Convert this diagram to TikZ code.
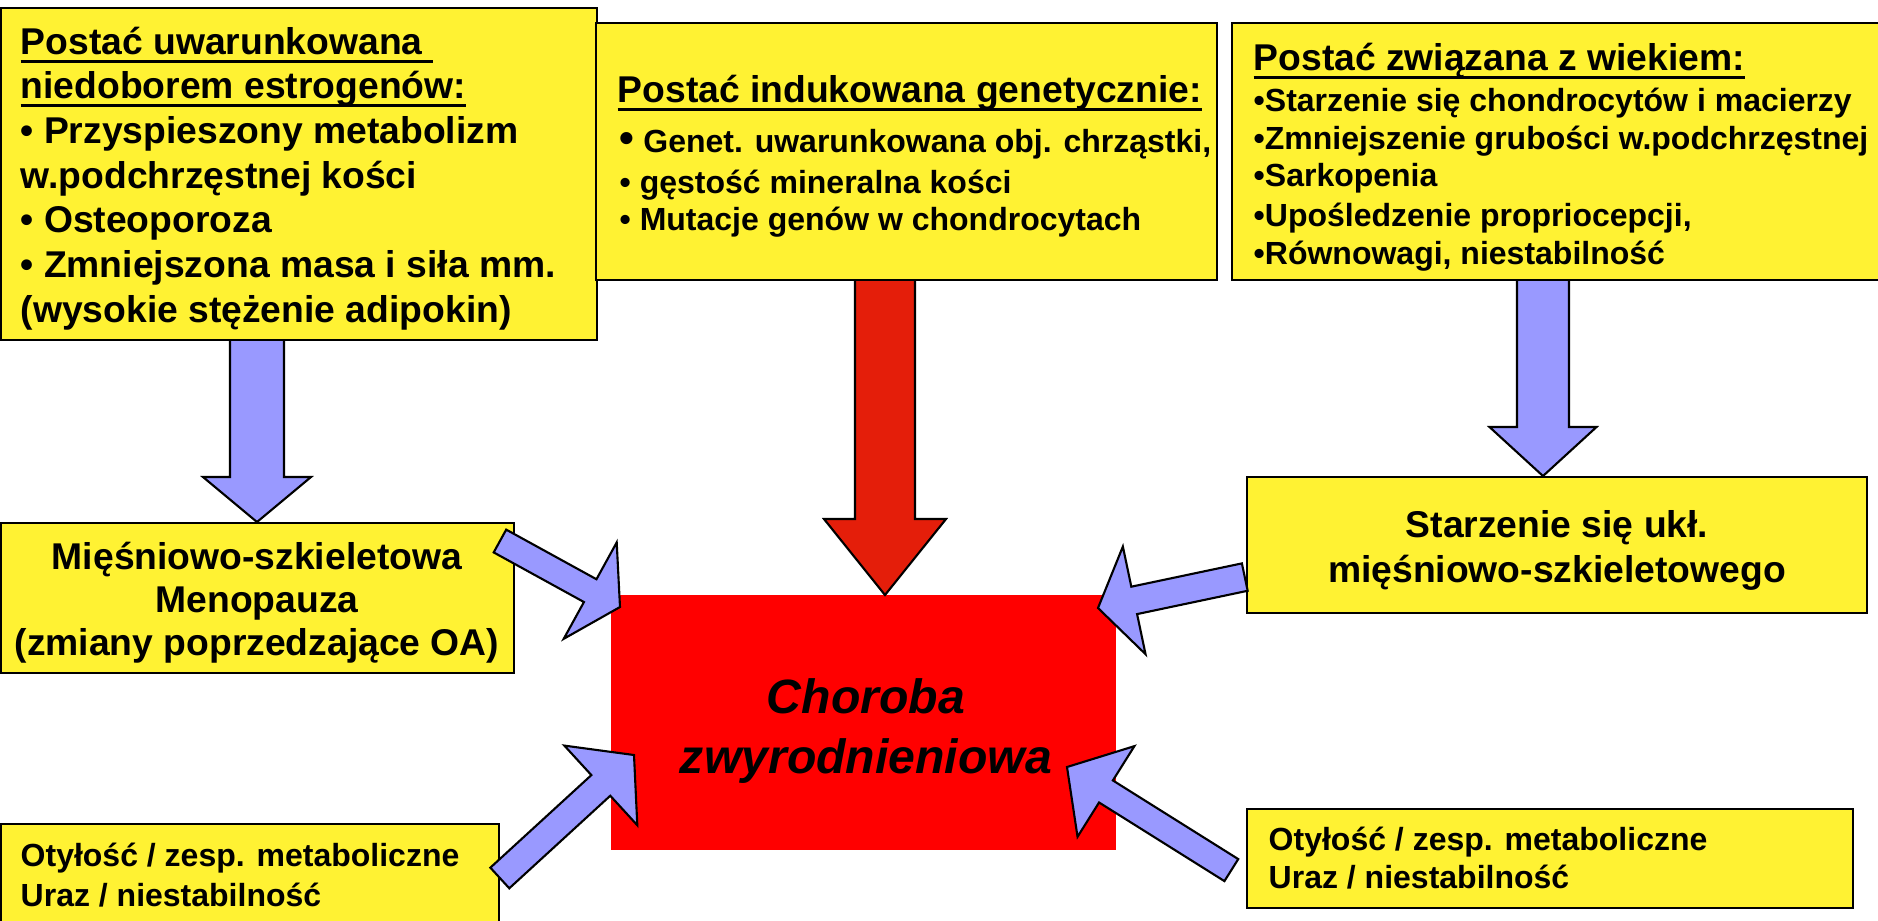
\documentclass[tikz,border=0pt]{standalone}
\usepackage{fontspec}
\setmainfont{Liberation Sans}
\definecolor{ybox}{HTML}{FFF233}
\definecolor{barrow}{HTML}{9999FF}
\definecolor{rarrow}{HTML}{E41E0A}
\definecolor{rbox}{HTML}{FF0000}
\newcommand\myul[1]{\setbox0\hbox{#1}\rlap{\rule[-0.23em]{\wd0}{0.08em}}\box0}
% block arrow: tip coordinate, angle, total length, shaft width, head width, head length, style
\newcommand\blockarrow[7]{%
  \begin{scope}[shift={(#1)}, rotate=#2]
    \draw[#7] (0,0) -- (-#6,#5/2) -- (-#6,#4/2) -- (-#3,#4/2) -- (-#3,-#4/2)
      -- (-#6,-#4/2) -- (-#6,-#5/2) -- cycle;
  \end{scope}}
\begin{document}
\begin{tikzpicture}[x=0.01cm,y=-0.01cm,
  boxst/.style={draw=black, line width=0.8pt, fill=ybox},
  bluearr/.style={draw=black, line width=0.6pt, fill=barrow, line join=miter},
  redarr/.style={draw=black, line width=0.6pt, fill=rarrow, line join=miter},
  big/.style={font=\fontsize{10.6}{12.7}\selectfont\bfseries, inner sep=0pt},
  small/.style={font=\fontsize{9.1}{11}\selectfont\bfseries, inner sep=0pt},
  huge/.style={font=\fontsize{13.7}{16}\selectfont\bfseries\itshape, inner sep=0pt},
  lw/.style={anchor=base west},
  lc/.style={anchor=base}]
\useasboundingbox (0,0) rectangle (1878,920);
\fill[white] (0,0) rectangle (1878,920);

% coordinates of arrow tips
\coordinate (tip1) at (257,522);
\coordinate (tipR) at (885,595);
\coordinate (tip3) at (1543,476);
\coordinate (tipA) at (620,607);
\coordinate (tipB) at (1098,608);
\coordinate (tipC) at (1067,767);
\coordinate (tipD) at (634,755);

% central red box
\fill[rbox] (611,595) rectangle (1116,850);

% vertical arrows (tails hidden under top boxes)
\blockarrow{tip1}{-90}{192}{54}{108}{45}{bluearr}
\blockarrow{tipR}{-90}{325}{60}{122}{76}{redarr}
\blockarrow{tip3}{-90}{206}{52}{107}{49}{bluearr}

% boxes
\draw[boxst] (1,8) rectangle (597,340);
\draw[boxst] (596,23) rectangle (1217,280);
\draw[boxst] (1232,23) rectangle (1885,280);
\draw[boxst] (1,523) rectangle (514,673);
\draw[boxst] (1247,477) rectangle (1867,613);
\draw[boxst] (1,824) rectangle (499,930);
\draw[boxst] (1247,809) rectangle (1853,908);

% diagonal arrows
\blockarrow{tipA}{-28.8}{137}{26}{110}{34}{bluearr}
\blockarrow{tipB}{-168.1}{150}{28}{110}{37}{bluearr}
\blockarrow{tipC}{147.9}{194}{26}{107}{46}{bluearr}
\blockarrow{tipD}{42.5}{182}{28}{108}{45}{bluearr}

% box 1 text
\node[big,lw] (b1a) at (20,54) {\myul{Postać uwarunkowana\ }};
\node[big,lw] (b1b) at (20,98.7) {\myul{niedoborem estrogenów:}};
\node[big,lw] (b1c) at (20,143.4) {• Przyspieszony metabolizm};
\node[big,lw] (b1d) at (20,188.1) {w.podchrzęstnej kości};
\node[big,lw] (b1e) at (20,232.8) {• Osteoporoza};
\node[big,lw] (b1f) at (20,277.5) {• Zmniejszona masa i siła mm.};
\node[big,lw] (b1g) at (20,322.2) {(wysokie stężenie adipokin)};

% box 2 text
\node[big,lw] (b2a) at (617,102) {\myul{Postać indukowana genetycznie:}};
\node[small,lw] (b2b) at (619,152) {{\fontsize{12}{12}\selectfont •} Genet. uwarunkowana obj. chrząstki,};
\node[small,lw] (b2c) at (619,193) {• gęstość mineralna kości};
\node[small,lw] (b2d) at (619,230) {• Mutacje genów w chondrocytach};

% box 3 text
\node[big,lw] (b3a) at (1253,70) {\myul{Postać związana z wiekiem:}};
\node[small,lw] (b3b) at (1253,111) {•Starzenie się chondrocytów i macierzy};
\node[small,lw] (b3c) at (1253,149) {•Zmniejszenie grubości w.podchrzęstnej};
\node[small,lw] (b3d) at (1253,186) {•Sarkopenia};
\node[small,lw] (b3e) at (1253,226) {•Upośledzenie propriocepcji,};
\node[small,lw] (b3f) at (1253,264) {•Równowagi, niestabilność};

% box 4 text
\node[big,lc] (b4a) at (257,569) {Mięśniowo-szkieletowa};
\node[big,lc] (b4b) at (257,612) {Menopauza};
\node[big,lc] (b4c) at (257,655) {(zmiany poprzedzające OA)};

% box 5 text
\node[big,lc] (b5a) at (1557,537) {Starzenie się ukł.};
\node[big,lc] (b5b) at (1557,582) {mięśniowo-szkieletowego};

% bottom boxes text
\node[small,lw] (b6a) at (20,866) {Otyłość / zesp. metaboliczne};
\node[small,lw] (b6b) at (20,906) {Uraz / niestabilność};
\node[small,lw] (b7a) at (1268,850) {Otyłość / zesp. metaboliczne};
\node[small,lw] (b7b) at (1268,888) {Uraz / niestabilność};

% red box text
\node[huge,lc] (ca) at (866,713) {Choroba};
\node[huge,lc] (cb) at (866,773) {zwyrodnieniowa};
\end{tikzpicture}
\end{document}
